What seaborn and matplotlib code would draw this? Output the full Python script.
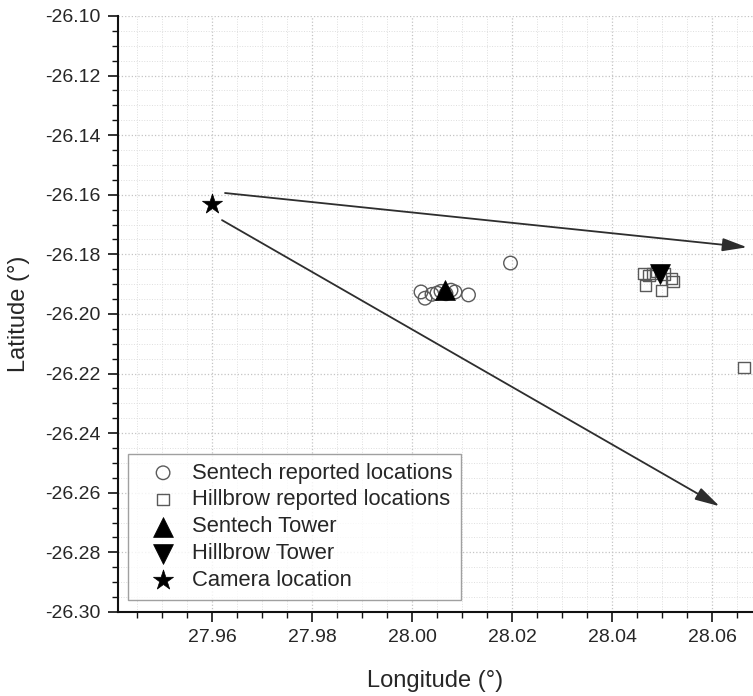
import numpy as np
import pandas as pd
import matplotlib
matplotlib.use("Agg")
import matplotlib.pyplot as plt
from matplotlib.ticker import MultipleLocator
import seaborn as sns

# reported / reference locations (lon, lat)
sentech_lon = [28.0018, 28.0026, 28.0040, 28.0050, 28.0058, 28.0068, 28.0078, 28.0086, 28.0113, 28.0197]
sentech_lat = [-26.1926, -26.1947, -26.1934, -26.1930, -26.1924, -26.1932, -26.1920, -26.1926, -26.1936, -26.1829]
hillbrow_lon = [28.0464, 28.0467, 28.0474, 28.0482, 28.0490, 28.0499, 28.0505, 28.0519, 28.0522, 28.0664]
hillbrow_lat = [-26.1863, -26.1904, -26.1872, -26.1863, -26.1858, -26.1921, -26.1866, -26.1880, -26.1890, -26.2180]
sentech_tower = (28.0066, -26.1920)
hillbrow_tower = (28.0495, -26.1865)
camera = (27.9600, -26.1630)

# camera view arrows: start, end
arrow_start = [(27.9626, -26.1594), (27.9620, -26.1685)]
arrow_end = [(28.0670, -26.1776), (28.0615, -26.2645)]

sns.set_style("white")
plt.rcParams['font.family'] = ['Liberation Sans', 'DejaVu Sans']
txt = '#262626'

fig = plt.figure(figsize=(7.53, 6.96), dpi=100)
ax = fig.add_axes([118/753, 84/696, 635/753, 596/696])

sns.scatterplot(x=sentech_lon, y=sentech_lat, marker='o', s=95, facecolors='none',
                edgecolor='#5a5a5a', linewidth=1.0, label='Sentech reported locations', ax=ax, zorder=3)
sns.scatterplot(x=hillbrow_lon, y=hillbrow_lat, marker='s', s=65, facecolors='none',
                edgecolor='#5a5a5a', linewidth=1.0, label='Hillbrow reported locations', ax=ax, zorder=3)
sns.scatterplot(x=[sentech_tower[0]], y=[sentech_tower[1]], marker='^', s=205, color='black',
                edgecolor='black', linewidth=0.5, label='Sentech Tower', ax=ax, zorder=4)
sns.scatterplot(x=[hillbrow_tower[0]], y=[hillbrow_tower[1]], marker='v', s=205, color='black',
                edgecolor='black', linewidth=0.5, label='Hillbrow Tower', ax=ax, zorder=4)
sns.scatterplot(x=[camera[0]], y=[camera[1]], marker='*', s=230, color='black',
                edgecolor='black', linewidth=0.5, label='Camera location', ax=ax, zorder=4)

for (x0, y0), (x1, y1) in zip(arrow_start, arrow_end):
    ax.annotate('', xy=(x1, y1), xytext=(x0, y0),
                arrowprops=dict(arrowstyle='-|>,head_length=0.75,head_width=0.2',
                                color='#2e2e2e', lw=1.3,
                                mutation_scale=20, shrinkA=0, shrinkB=0), zorder=5)

ax.set_xlim(27.9412, 28.0682)
ax.set_ylim(-26.30, -26.10)
ax.xaxis.set_major_locator(MultipleLocator(0.02))
ax.xaxis.set_minor_locator(MultipleLocator(0.005))
ax.yaxis.set_major_locator(MultipleLocator(0.02))
ax.yaxis.set_minor_locator(MultipleLocator(0.005))
ax.xaxis.set_major_formatter(plt.FuncFormatter(lambda v, p: f"{v:.2f}"))
ax.yaxis.set_major_formatter(plt.FuncFormatter(lambda v, p: f"{v:.2f}"))

ax.grid(which='major', color='#c4c4c4', linestyle=':', linewidth=0.9)
ax.grid(which='minor', color='#dedede', linestyle=':', linewidth=0.7)
ax.set_axisbelow(True)

sns.despine(ax=ax)
for sp in ['left', 'bottom']:
    ax.spines[sp].set_color('#111111')
    ax.spines[sp].set_linewidth(1.5)
ax.tick_params(which='major', direction='out', length=7.5, width=1.2, color='#111111',
               labelsize=14, labelcolor=txt, pad=5, left=True, bottom=True)
ax.tick_params(which='minor', direction='out', length=4.3, width=1.0, color='#111111',
               left=True, bottom=True)

ax.set_xlabel('Longitude (°)', fontsize=17, color=txt)
ax.set_ylabel('Latitude (°)', fontsize=17, color=txt)
ax.xaxis.set_label_coords(0.5, -0.098)
ax.yaxis.set_label_coords(-0.1386, 0.5)
ax.xaxis.label.set_va('top')

leg = ax.legend(loc='lower left', bbox_to_anchor=(0.0157, 0.0201), borderaxespad=0,
                fontsize=15.8, frameon=True, fancybox=False, edgecolor='#888888',
                handlelength=2.4, handletextpad=0.1, borderpad=0.4, labelspacing=0.27)
leg.get_frame().set_linewidth(1.0)
for t in leg.get_texts():
    t.set_color(txt)

fig.savefig('out.png', dpi=100)
